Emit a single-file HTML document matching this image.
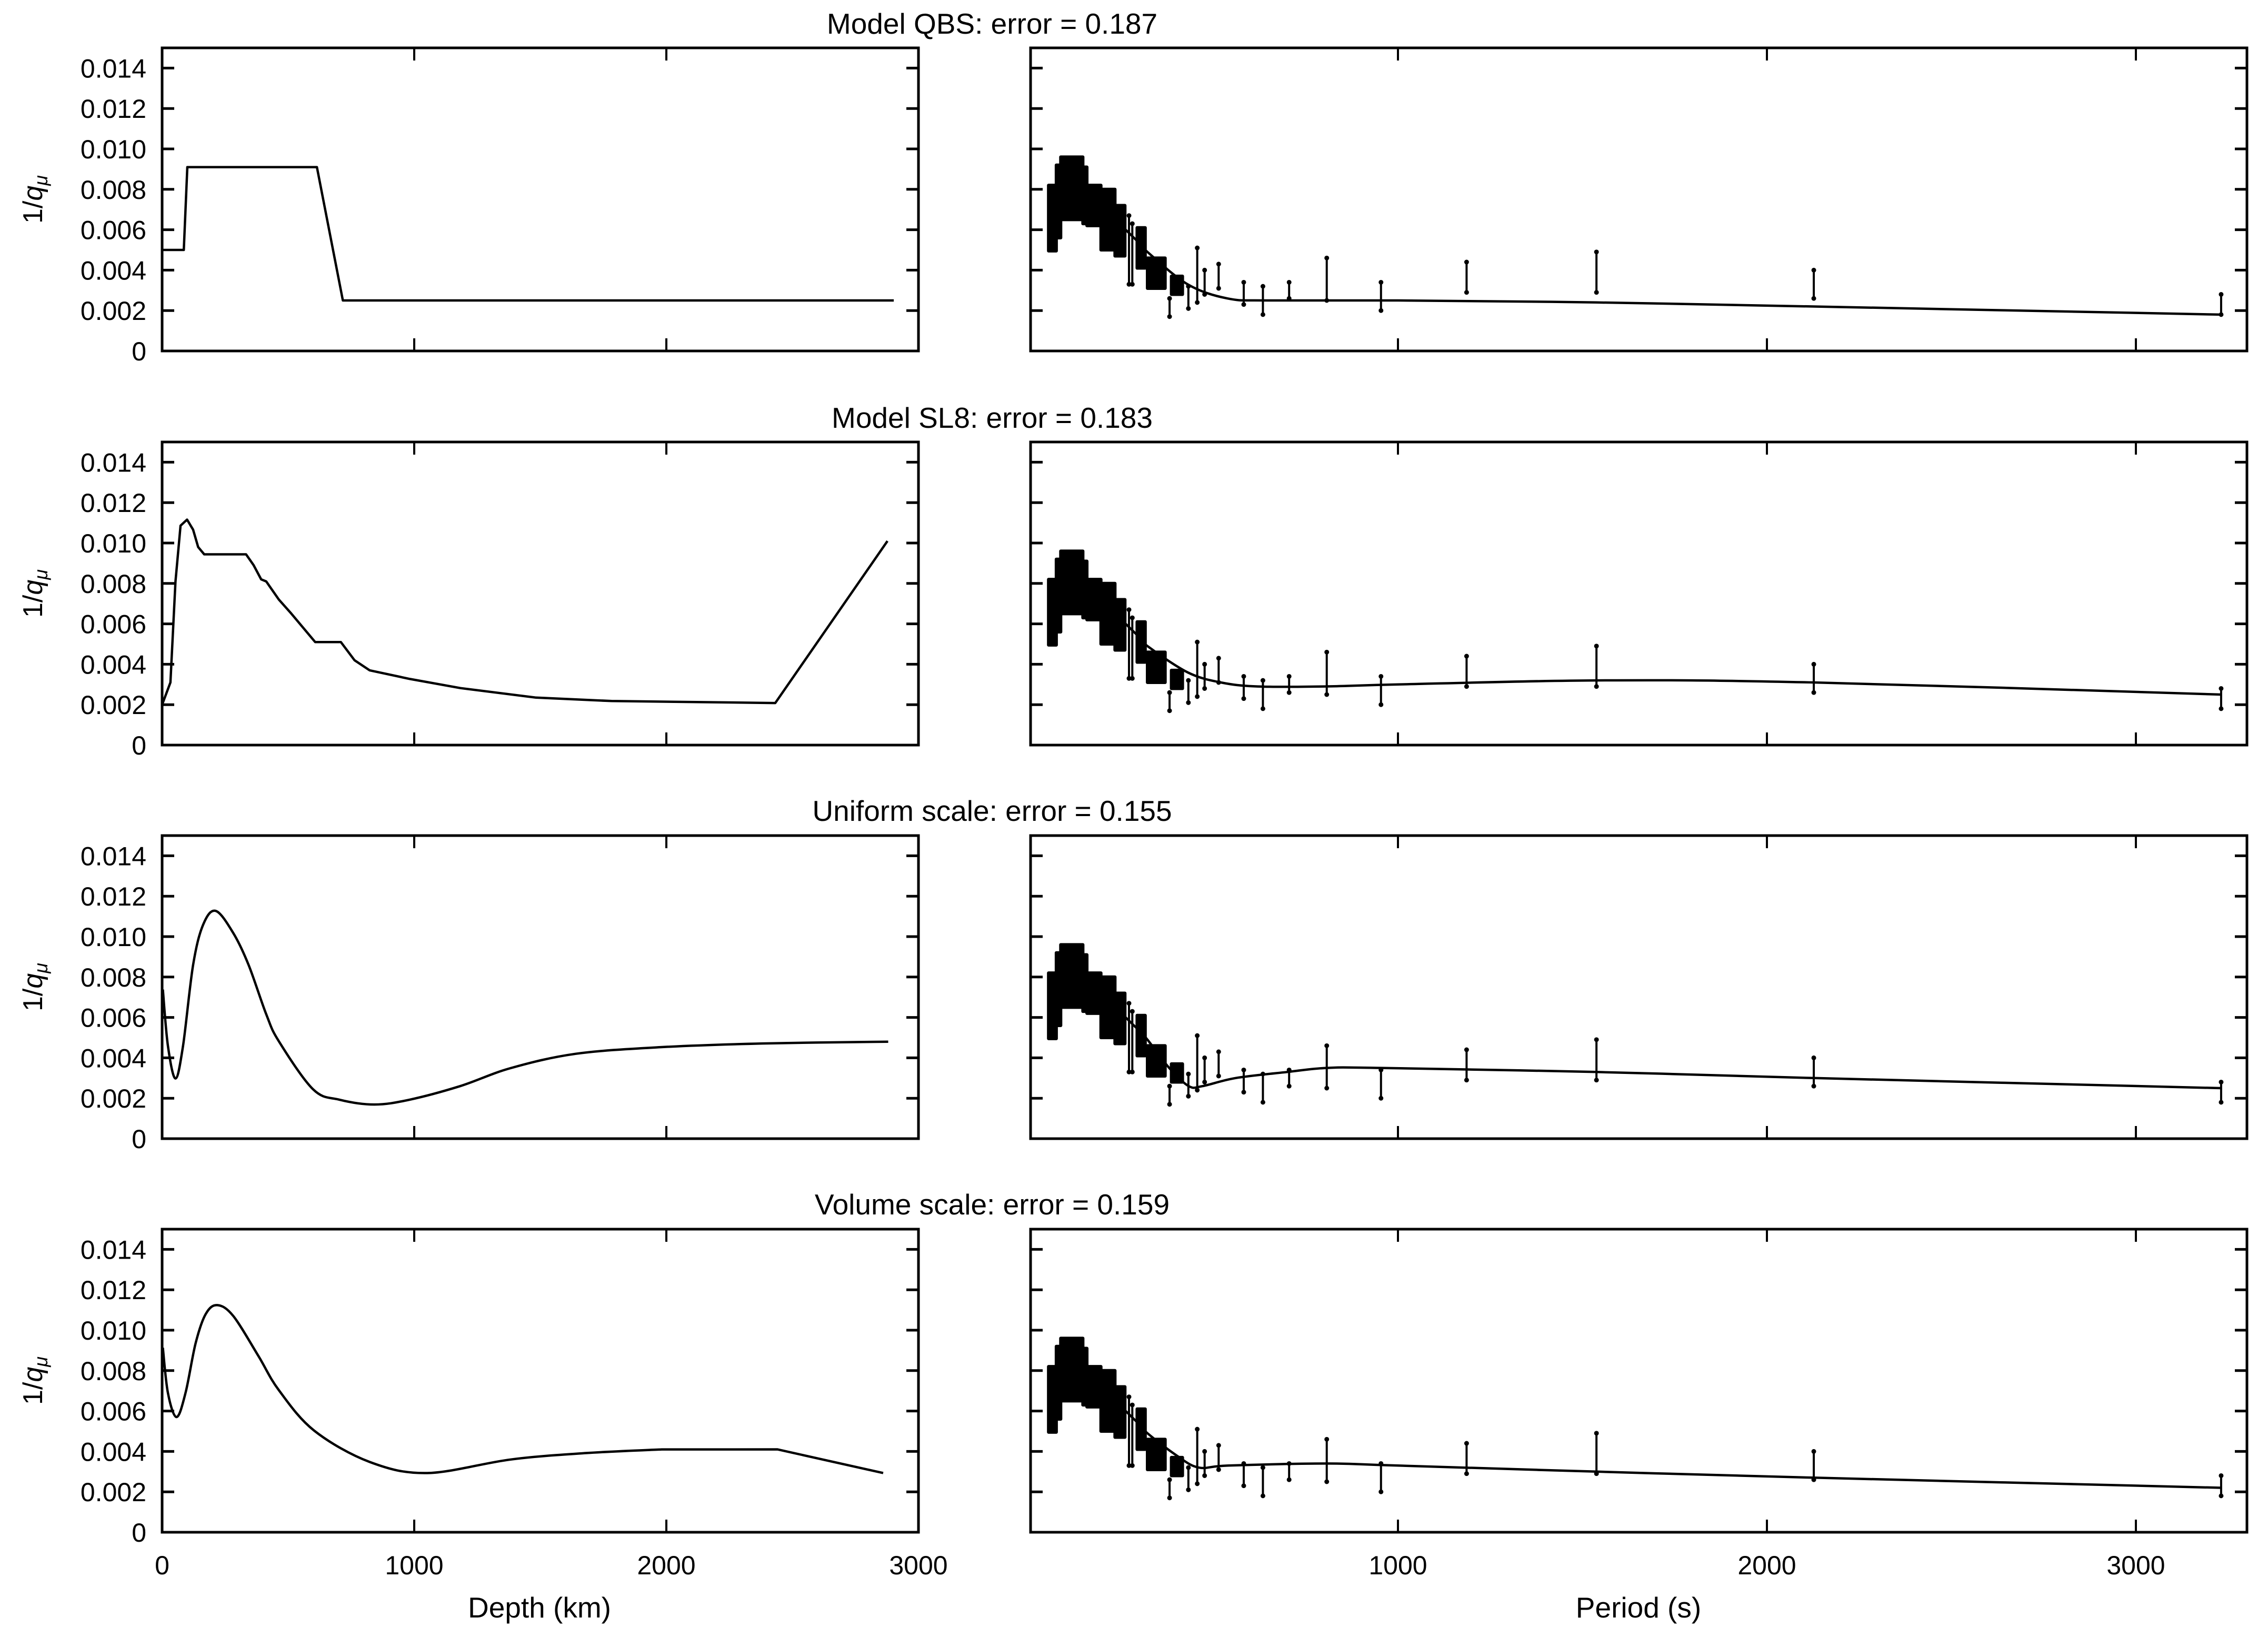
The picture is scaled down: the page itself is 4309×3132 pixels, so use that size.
<!DOCTYPE html>
<html><head><meta charset="utf-8">
<style>
html,body{margin:0;padding:0;background:#fff;}
svg{display:block;}
text{font-family:"Liberation Sans","DejaVu Sans",sans-serif;fill:#000;}
</style></head>
<body>
<svg id="s" width="4309" height="3132" viewBox="0 0 4309 3132" xmlns="http://www.w3.org/2000/svg">
<text x="1885" y="64" font-size="55" text-anchor="middle">Model QBS: error = 0.187</text>
<text x="1885" y="813" font-size="55" text-anchor="middle">Model SL8: error = 0.183</text>
<text x="1885" y="1560" font-size="55" text-anchor="middle">Uniform scale: error = 0.155</text>
<text x="1885" y="2308" font-size="55" text-anchor="middle">Volume scale: error = 0.159</text>
<text x="1025" y="3074" font-size="55" text-anchor="middle">Depth (km)</text>
<text x="3113" y="3074" font-size="55" text-anchor="middle">Period (s)</text>
<g id="g"></g>
</svg>
<script>
var NS="http://www.w3.org/2000/svg";
var G=document.getElementById('g');
function el(t,a,txt){var e=document.createElementNS(NS,t);for(var k in a)e.setAttribute(k,a[k]);if(txt!==undefined)e.textContent=txt;G.appendChild(e);return e;}
var tops=[91,840,1588,2336],H=576;
var LX0=308,LX1=1745,RX0=1958,RX1=4269;
function lx(d){return 308+d*0.479;}
function rx(p){return 1955+p*0.701;}
function yy(r,v){return tops[r]+H-v/0.015*H;}
function cr(pts){
  var s="M"+pts[0][0].toFixed(1)+","+pts[0][1].toFixed(1);
  for(var i=0;i<pts.length-1;i++){
    var p0=pts[i-1]||pts[i],p1=pts[i],p2=pts[i+1],p3=pts[i+2]||p2;
    var c1=[p1[0]+(p2[0]-p0[0])/6,p1[1]+(p2[1]-p0[1])/6];
    var c2=[p2[0]-(p3[0]-p1[0])/6,p2[1]-(p3[1]-p1[1])/6];
    s+="C"+c1[0].toFixed(1)+","+c1[1].toFixed(1)+" "+c2[0].toFixed(1)+","+c2[1].toFixed(1)+" "+p2[0].toFixed(1)+","+p2[1].toFixed(1);
  }return s;}
function pl(pts){return "M"+pts.map(function(p){return p[0].toFixed(1)+","+p[1].toFixed(1)}).join("L");}
for(var r=0;r<4;r++){
  var t=tops[r],b=t+H;
  [[LX0,LX1],[RX0,RX1]].forEach(function(ax,i){
    el('rect',{x:ax[0],y:t,width:ax[1]-ax[0],height:H,fill:'none',stroke:'#000','stroke-width':5});
    for(var k=1;k<=7;k++){var y=yy(r,k*0.002);
      el('line',{x1:ax[0],y1:y,x2:ax[0]+23,y2:y,stroke:'#000','stroke-width':5});
      el('line',{x1:ax[1]-23,y1:y,x2:ax[1],y2:y,stroke:'#000','stroke-width':5});}
    var xt=i==0?[1000,2000]:[1000,2000,3000];
    xt.forEach(function(v){var x=i==0?lx(v):rx(v);
      el('line',{x1:x,y1:t,x2:x,y2:t+24,stroke:'#000','stroke-width':4});
      el('line',{x1:x,y1:b-24,x2:x,y2:b,stroke:'#000','stroke-width':4});});
  });
  var labs=["0","0.002","0.004","0.006","0.008","0.010","0.012","0.014"];
  for(var k=0;k<8;k++)el('text',{x:278,y:yy(r,k*0.002)+18,'font-size':50,'text-anchor':'end'},labs[k]);
  var cy=t+H/2;
  var tx=el('text',{x:0,y:0,'font-size':52,'text-anchor':'middle',transform:'translate(80,'+cy+') rotate(-90)'});
  var a=document.createElementNS(NS,'tspan');a.textContent='1/';tx.appendChild(a);
  var q=document.createElementNS(NS,'tspan');q.textContent='q';q.setAttribute('font-style','italic');tx.appendChild(q);
  var m=document.createElementNS(NS,'tspan');m.textContent='μ';m.setAttribute('font-style','italic');m.setAttribute('font-size','36');m.setAttribute('dy','10');tx.appendChild(m);
}
[[0,"0"],[1000,"1000"],[2000,"2000"],[3000,"3000"]].forEach(function(a){el('text',{x:lx(a[0]),y:2992,'font-size':50,'text-anchor':'middle'},a[1]);});
[[1000,"1000"],[2000,"2000"],[3000,"3000"]].forEach(function(a){el('text',{x:rx(a[0]),y:2992,'font-size':50,'text-anchor':'middle'},a[1]);});
var L=[
 [[0,.005],[86,.005],[100,.0091],[614,.0091],[717,.0025],[2902,.0025]],
 [[0,.0020],[4,.00213],[33,.0031],[53,.0081],[73,.01086],[99,.01116],[123,.01066],[143,.0098],[167,.00944],[333,.00944],[363,.0089],[393,.0082],[413,.0081],[463,.0072],[513,.0065],[607,.0051],[709,.0051],[763,.0042],[823,.0037],[983,.00327],[1183,.00282],[1483,.00235],[1783,.00218],[2432,.00208],[2877,.0101]],
 [[3,.00738],[23,.0046],[53,.00298],[83,.0046],[123,.0086],[163,.0106],[213,.01127],[283,.01016],[343,.0086],[413,.00616],[463,.00482],[599,.00244],[703,.00193],[842,.00169],[982,.00193],[1182,.0026],[1382,.00349],[1641,.0042],[1981,.00453],[2381,.00471],[2880,.0048]],
 [[3,.00913],[23,.0069],[57,.0057],[93,.0069],[133,.00936],[173,.0108],[219,.01124],[283,.01069],[383,.0087],[463,.00703],[603,.00503],[823,.00348],[1052,.00293],[1382,.0036],[1681,.00392],[1981,.0041],[2441,.0041],[2860,.00293]]
];
L.forEach(function(c,r){var pts=c.map(function(p){return [lx(p[0]),yy(r,p[1])]});
  var d=(r<2)?pl(pts):cr(pts);
  if(r==3){d=cr(pts.slice(0,16))+"L"+pts[16][0]+","+pts[16][1]+"L"+pts[17][0]+","+pts[17][1];}
  el('path',{d:d,fill:'none',stroke:'#000','stroke-width':4.5,'stroke-linejoin':'round'});});
var seg=[[53,74,.00495,.0082],[74,86,.0056,.0092],[86,146,.0065,.0096],[146,157,.0063,.0091],[157,195,.0062,.0082],[195,233,.005,.008],[233,260,.0047,.0072],[293,315,.0041,.0061],[321,369,.0031,.0046],[386,416,.0028,.0037]];
var bars=[[271,.0033,.0067],[280,.0033,.0063],[381,.0017,.0026],[432,.0021,.0032],[456,.0024,.0051],[476,.0028,.004],[514,.0031,.0043],[582,.0023,.0034],[634,.0018,.0032],[705,.0026,.0034],[807,.0025,.0046],[954,.002,.0034],[1186,.0029,.0044],[1538,.0029,.0049],[2127,.0026,.004],[3231,.0018,.0028]];
var head=[[60,.0072],[95,.0079],[145,.0078],[215,.0068],[290,.0055],[321,.0049]];
var RC=[
 head.concat([[430,.0033],[538,.0026],[650,.0025],[1000,.0025],[1538,.0024],[2127,.0022],[3231,.0018]]),
 head.concat([[430,.0036],[520,.0031],[620,.0029],[800,.0029],[1000,.003],[1538,.0032],[2127,.0031],[3231,.0025]]),
 head.concat([[380,.0035],[433,.0026],[470,.0026],[560,.003],[700,.0033],[807,.0035],[954,.0035],[1538,.0033],[2127,.003],[3231,.0025]]),
 head.concat([[400,.0038],[460,.0032],[540,.0033],[807,.0034],[1000,.0033],[1538,.003],[2127,.0027],[3231,.0022]])
];
for(var r=0;r<4;r++){
  var s="";
  seg.forEach(function(g){
    var x0=rx(g[0]),x1=rx(g[1]);
    s+="M"+x0+","+yy(r,g[3])+"L"+x1+","+yy(r,g[3])+"L"+x1+","+yy(r,g[2])+"L"+x0+","+yy(r,g[2])+"Z";
  });
  el('path',{d:s,fill:'#000',stroke:'#000','stroke-width':6,'stroke-linejoin':'round'});
  bars.forEach(function(bb){var x=rx(bb[0]);
    el('line',{x1:x,y1:yy(r,bb[1]),x2:x,y2:yy(r,bb[2]),stroke:'#000','stroke-width':4});
    el('circle',{cx:x,cy:yy(r,bb[1]),r:4.5,fill:'#000'});
    el('circle',{cx:x,cy:yy(r,bb[2]),r:4.5,fill:'#000'});
  });
  var pts=RC[r].map(function(p){return [rx(p[0]),yy(r,p[1])]});
  el('path',{d:cr(pts),fill:'none',stroke:'#000','stroke-width':4.5});
}
</script>
</body></html>
